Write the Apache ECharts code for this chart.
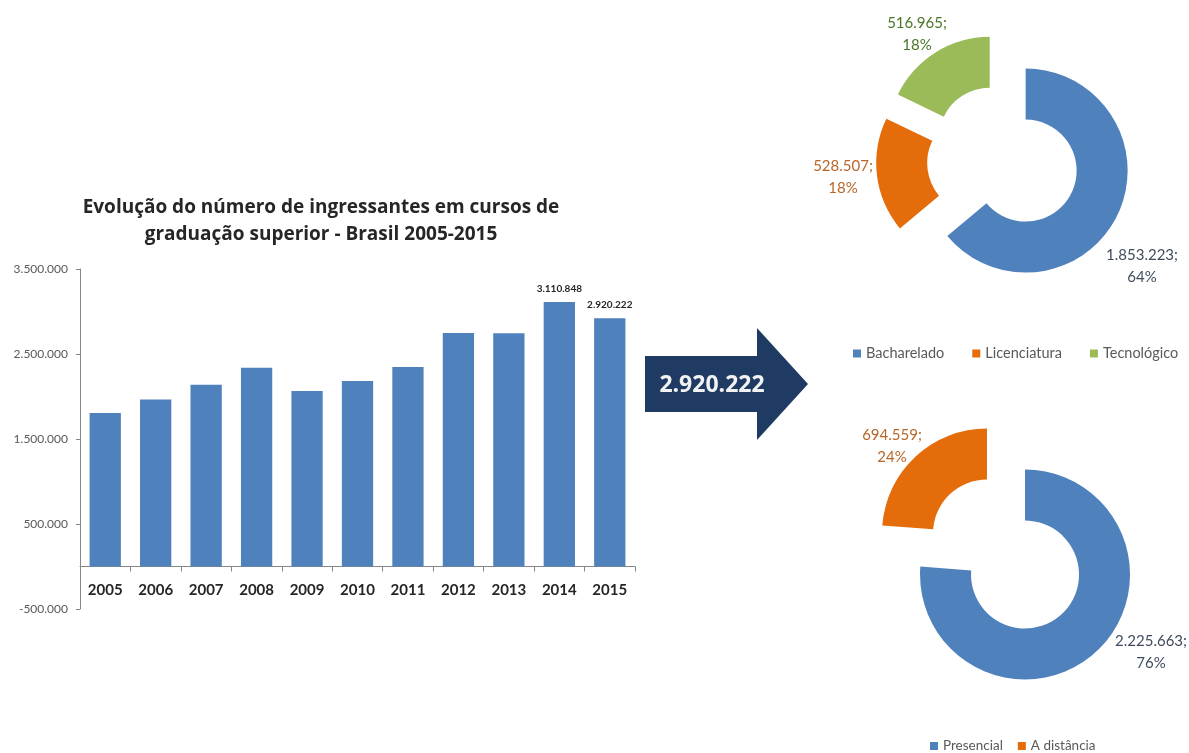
<!DOCTYPE html>
<html><head><meta charset="utf-8">
<script src="https://cdn.jsdelivr.net/npm/echarts@6/dist/echarts.min.js"></script>
<style>html,body{margin:0;padding:0;background:#fff}#c{width:1189px;height:753px}</style>
</head><body><div id="c"></div>
<script>
// ---- data ----
const years = ['2005','2006','2007','2008','2009','2010','2011','2012','2013','2014','2015'];
const ingressantes = [1805102,1965314,2138241,2336899,2065082,2182229,2346695,2747089,2742950,3110848,2920222];
const labeledYears = ['2014','2015'];
const grauNames = ['Bacharelado','Licenciatura','Tecnológico'];
const grauValues = [1853223, 528507, 516965];
const ensinoNames = ['Presencial','A distância'];
const ensinoValues = [2225663, 694559];
const titleLines = ['Evolução do número de ingressantes em cursos de', 'graduação superior - Brasil 2005-2015'];

// ---- helpers ----
function fmt(v){ const s = String(Math.abs(v)).replace(/\B(?=(\d{3})+(?!\d))/g,'.'); return (v<0?'-':'')+s; }
const F = 'Lato, "Open Sans", sans-serif';
const BLUE='#4f81bd', ORANGE='#e46c0a', GREEN='#9bbb59';
const grauLabelColors = ['#3f4d5e','#b8662a','#4a7626'];
const ensinoLabelColors = ['#3f4d5e','#b8662a'];
const grauLabelPos = [[1142,266],[843,177],[917,34]];
const ensinoLabelPos = [[1151,652],[892,446]];

function pieLabels(names, values, pos, colors){
  const sum = values.reduce((a,b)=>a+b,0);
  return values.map((v,i)=>({
    type:'text', x:pos[i][0], y:pos[i][1],
    style:{text: fmt(v)+';\n'+Math.round(v/sum*100)+'%', fill:colors[i],
      font:'15px Lato, sans-serif', lineHeight:22, align:'center', verticalAlign:'middle'}
  }));
}

const chart = echarts.init(document.getElementById('c'), null, {renderer:'canvas'});
const total = ingressantes[ingressantes.length-1];

chart.setOption({
  animation:false,
  backgroundColor:'#ffffff',
  title:{
    text: titleLines.join('\n'), left: 316, top: 189, textAlign:'center',
    textStyle:{fontFamily:'"Open Sans", sans-serif', fontSize:19, fontWeight:'bold', color:'#262626', lineHeight:27}
  },
  grid:{left:80, top:269, width:555, height:340, containLabel:false},
  xAxis:{
    type:'category', data: years,
    axisLine:{onZero:true, lineStyle:{color:'#868686', width:1}},
    axisTick:{show:true, alignWithLabel:false, length:5, lineStyle:{color:'#868686'}},
    axisLabel:{fontFamily:F, fontSize:15, fontWeight:'bold', color:'#262626', margin:-26}
  },
  yAxis:{
    type:'value', min:-500000, max:3500000, interval:1000000,
    splitLine:{show:false},
    axisLine:{show:true, lineStyle:{color:'#868686'}},
    axisTick:{show:true, length:4, lineStyle:{color:'#868686'}},
    axisLabel:{fontFamily:F, fontSize:12, color:'#595959', margin:12, formatter: v => fmt(v)}
  },
  legend:[
    {data:grauNames, left:848, top:341, icon:'rect', itemWidth:8, itemHeight:8, itemGap:28,
     textStyle:{fontFamily:F, fontSize:14.5, color:'#595959'}},
    {data:ensinoNames, left:925, top:734, icon:'rect', itemWidth:8, itemHeight:8, itemGap:15,
     textStyle:{fontFamily:F, fontSize:13.5, color:'#595959'}}
  ],
  graphic:[
    {type:'polygon', shape:{points:[[645,356],[757,356],[757,328],[808,384],[757,440],[757,412],[645,412]]},
     style:{fill:'#1f3b64'}},
    {type:'text', x:712, y:385, style:{text:fmt(total), fill:'#f2f2f2', font:'bold 23px "Open Sans", sans-serif', align:'center', verticalAlign:'middle'}}
  ].concat(pieLabels(grauNames, grauValues, grauLabelPos, grauLabelColors))
   .concat(pieLabels(ensinoNames, ensinoValues, ensinoLabelPos, ensinoLabelColors)),
  series:[
    {
      type:'bar', barCategoryGap:'38%',
      itemStyle:{color:BLUE},
      data: ingressantes.map((v,i)=> labeledYears.indexOf(years[i])>=0 ? {value:v, label:{show:true}} : v),
      label:{show:false, position:'top', distance:8, fontFamily:F, fontSize:10, fontWeight:'bold', color:'#262626', formatter: p => fmt(p.value)}
    },
    {
      type:'pie', center:[1003,160], radius:[51,102], startAngle:90, clockwise:true,
      selectedMode:'multiple', selectedOffset:25,
      select:{itemStyle:{borderWidth:0}}, emphasis:{scale:false},
      data: grauNames.map((n,i)=>({name:n, value:grauValues[i], selected:true})),
      color:[BLUE, ORANGE, GREEN],
      label:{show:false}, labelLine:{show:false}
    },
    {
      type:'pie', center:[1006,554], radius:[54,105], startAngle:90, clockwise:true,
      selectedMode:'multiple', selectedOffset:28,
      select:{itemStyle:{borderWidth:0}}, emphasis:{scale:false},
      data: ensinoNames.map((n,i)=>({name:n, value:ensinoValues[i], selected:true})),
      color:[BLUE, ORANGE],
      label:{show:false}, labelLine:{show:false}
    }
  ]
});
</script></body></html>
